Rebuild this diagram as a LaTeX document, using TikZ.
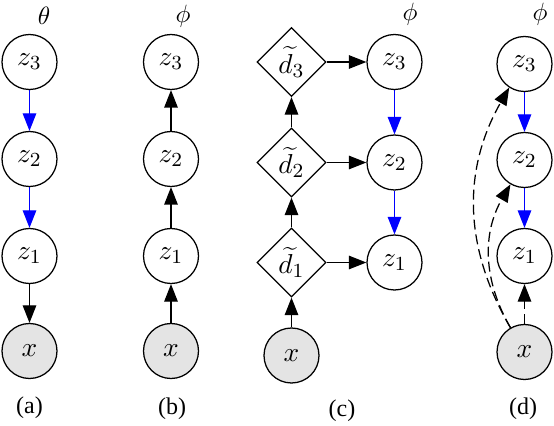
\documentclass[tikz,border=0pt]{standalone}
\usepackage{fontspec}
\newfontfamily\capfont{Liberation Serif}
\usetikzlibrary{arrows.meta,shapes.geometric}
\definecolor{obsgray}{RGB}{228,228,228}
\begin{document}
\begin{tikzpicture}[x=0.4pt,y=-0.4pt,
  lat/.style={circle,draw,line width=0.5pt,minimum size=22pt,inner sep=0pt,font=\fontsize{11}{13}\selectfont},
  obs/.style={lat,fill=obsgray},
  det/.style={diamond,draw,line width=0.5pt,minimum size=27.6pt,inner sep=0pt,font=\fontsize{11}{13}\selectfont},
  arr/.style={-{Triangle[length=7pt,width=5.4pt]},line width=0.5pt},
  barr/.style={arr,blue},
  darr/.style={arr,dash pattern=on 4pt off 2pt},
  captxt/.style={font=\capfont\fontsize{9.6}{11}\selectfont,inner sep=0pt},
  parlbl/.style={font=\fontsize{10.4}{12}\selectfont,inner sep=0pt}
]
\useasboundingbox (0,0) rectangle (554,426);
% (a)
\node[parlbl] (ta) at (44,16) {$\theta$};
\node[lat] (a3) at (29.5,62) {$z_3$};
\node[lat] (a2) at (29.5,159) {$z_2$};
\node[lat] (a1) at (29.5,256) {$z_1$};
\node[obs] (ax) at (29.5,351) {$x$};
\node[captxt] (ca) at (29.5,408) {(a)};
\draw[barr] (a3) -- (a2);
\draw[barr] (a2) -- (a1);
\draw[arr] (a1) -- (ax);
% (b)
\node[parlbl] (tb) at (183,16) {$\phi$};
\node[lat] (b3) at (171,62) {$z_3$};
\node[lat] (b2) at (171,159) {$z_2$};
\node[lat] (b1) at (171,256) {$z_1$};
\node[obs] (bx) at (171,351) {$x$};
\node[captxt] (cb) at (172,409) {(b)};
\draw[arr] (bx) -- (b1);
\draw[arr] (b1) -- (b2);
\draw[arr] (b2) -- (b3);
% (c)
\node[parlbl] (tc) at (410,14) {$\phi$};
\node[det] (d3) at (291.5,62) {$\widetilde{d}_3$};
\node[det] (d2) at (291.5,162.5) {$\widetilde{d}_2$};
\node[det] (d1) at (291.5,262.5) {$\widetilde{d}_1$};
\node[obs] (cx) at (291.5,355.5) {$x$};
\node[lat] (c3) at (394.5,62) {$z_3$};
\node[lat] (c2) at (394.5,162.5) {$z_2$};
\node[lat] (c1) at (394.5,262.5) {$z_1$};
\node[captxt] (cc) at (342,411) {(c)};
\draw[arr] (cx) -- (d1);
\draw[arr] (d1) -- (d2);
\draw[arr] (d2) -- (d3);
\draw[arr] (d3) -- (c3);
\draw[arr] (d2) -- (c2);
\draw[arr] (d1) -- (c1);
\draw[barr] (c3) -- (c2);
\draw[barr] (c2) -- (c1);
% (d)
\node[parlbl] (td) at (540,14) {$\phi$};
\node[lat] (e3) at (524.5,64) {$z_3$};
\node[lat] (e2) at (524.5,160) {$z_2$};
\node[lat] (e1) at (524.5,256) {$z_1$};
\node[obs] (ex) at (524.5,352) {$x$};
\node[captxt] (cd) at (523,409) {(d)};
\draw[barr] (e3) -- (e2);
\draw[barr] (e2) -- (e1);
\draw[darr] (ex) -- (e1);
\draw[darr] (ex.120) to[bend left=30] (e3.237);
\draw[darr] (ex.120) to[bend left=30] (e2.240);
\end{tikzpicture}
\end{document}
